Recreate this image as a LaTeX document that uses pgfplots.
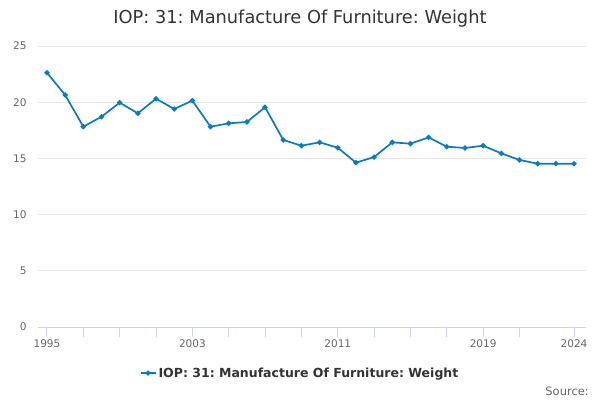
\documentclass[border=0pt]{standalone}
\usepackage{pgfplots}
\pgfplotsset{compat=1.18}
\usepackage{fontspec}
\setmainfont{DejaVu Sans}
\frenchspacing
\definecolor{lineblue}{HTML}{0A7BC1}
\definecolor{gridgray}{HTML}{E6E6E6}
\definecolor{axisblue}{HTML}{CCD6EB}
\definecolor{ticktext}{HTML}{666666}
\definecolor{titletext}{HTML}{333333}
\begin{document}
\begin{tikzpicture}[x=1pt,y=1pt]
\path[use as bounding box] (0,0) rectangle (600,400);
\begin{axis}[
  at={(38pt,73pt)}, anchor=south west,
  scale only axis, width=548pt, height=281pt,
  xmin=1994.505, xmax=2024.66, ymin=0, ymax=25,
  axis x line*=bottom, axis y line*=left,
  x axis line style={draw=axisblue, line width=1pt},
  y axis line style={draw=none},
  xtick={1995,1997,1999,2001,2003,2005,2007,2009,2011,2013,2015,2017,2019,2021,2024},
  xticklabels={1995,,,,2003,,,,2011,,,,2019,,2024},
  ytick={0,5,10,15,20,25},
  ymajorgrids, grid style={gridgray, line width=0.8pt},
  major x tick style={draw=axisblue, line width=1pt},
  xtick align=outside, major tick length=10pt,
  ytick style={draw=none},
  /pgf/number format/assume math mode=true,
  tick label style={font=\fontsize{10.5}{12}\selectfont, text=ticktext},
  xticklabel style={yshift=1pt},
  yticklabel style={xshift=-8pt},
  clip=false,
  legend style={at={(0.478,-0.164)}, anchor=center, draw=none, fill=none,
    font=\fontsize{12.5}{15}\selectfont\bfseries, text=titletext},
  legend image code/.code={\draw[lineblue, line width=2pt] (0pt,0pt) -- (15pt,0pt); \fill[lineblue] (7.5pt,0pt) circle (1.6pt);},
]
\addplot[lineblue, line width=1.7pt, mark=*, mark size=1.7pt, mark options={fill=lineblue, draw=lineblue}] coordinates {
(1995,22.62) (1996,20.64) (1997,17.82) (1998,18.71) (1999,19.96)
(2000,19.01) (2001,20.31) (2002,19.40) (2003,20.14) (2004,17.82)
(2005,18.12) (2006,18.24) (2007,19.55) (2008,16.64) (2009,16.13)
(2010,16.43) (2011,15.95) (2012,14.62) (2013,15.12) (2014,16.43)
(2015,16.31) (2016,16.87) (2017,16.04) (2018,15.93) (2019,16.13)
(2020,15.45) (2021,14.86) (2022,14.53) (2023,14.53) (2024,14.53)
};
\addlegendentry{IOP: 31: Manufacture Of Furniture: Weight}
\end{axis}
\node[anchor=center, text=titletext, font=\fontsize{17.8}{21}\selectfont] at (300,381) {IOP: 31: Manufacture Of Furniture: Weight};
\node[anchor=east, text=ticktext, font=\fontsize{11.5}{14}\selectfont, inner sep=0pt] at (589,9) {Source:};
\end{tikzpicture}
\end{document}
